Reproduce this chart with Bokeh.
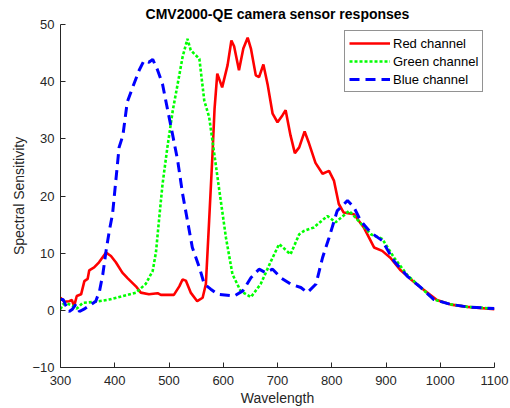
from bokeh.plotting import figure
from bokeh.models import Range1d, FixedTicker, Legend, LegendItem
from bokeh.embed import file_html
from bokeh.resources import INLINE

title_text = "CMV2000-QE camera sensor responses"
x_label = "Wavelength"
y_label = "Spectral Sensitivity"
x_ticks = [300, 400, 500, 600, 700, 800, 900, 1000, 1100]
y_ticks = [-10, 0, 10, 20, 30, 40, 50]
series_names = ["Red channel", "Green channel", "Blue channel"]

red_x = [300, 307, 316, 321, 325, 330, 338, 344, 350, 353, 362, 371, 384, 393, 402, 414, 424,
         439, 448, 463, 479, 485, 495, 509, 519, 525, 531, 540, 552, 562, 568, 574, 580, 584,
         589, 598, 608, 615, 620, 629, 637, 645, 651, 660, 666, 674, 682, 691, 700, 709, 715,
         724, 732, 740, 750, 757, 770, 783, 795, 804, 813, 822, 841, 859, 878, 893, 908, 927,
         945, 964, 994, 1020, 1050, 1100]
red_y = [2.2, 1.5, 1.6, 1.8, 0.7, 2.5, 2.8, 5.1, 5.5, 7.0, 7.5, 8.4, 10.1, 9.5, 8.4, 6.6, 5.6,
         4.2, 3.1, 2.8, 3.0, 2.7, 2.7, 2.7, 4.2, 5.4, 5.2, 3.1, 1.6, 2.2, 4.6, 15.7, 27.0, 35.3,
         41.4, 39.0, 42.9, 47.2, 46.2, 42.0, 45.8, 47.7, 45.8, 41.1, 40.8, 43.0, 39.4, 34.4, 32.9,
         34.1, 35.0, 30.6, 27.5, 28.5, 31.3, 29.5, 25.8, 23.9, 24.4, 22.7, 18.6, 17.1, 16.8, 14.5,
         11.0, 10.4, 9.2, 7.0, 5.5, 4.0, 1.8, 1.0, 0.6, 0.2]

green_x = [300, 304, 312, 322, 330, 341, 365, 390, 415, 439, 457, 470, 476, 482, 488, 497, 507,
           516, 525, 534, 540, 556, 565, 574, 583, 592, 605, 617, 632, 651, 669, 688, 703, 724,
           740, 749, 767, 792, 807, 832, 844, 872, 893, 915, 939, 964, 988, 1019, 1050, 1100]
green_y = [0.2, 1.0, 1.2, 0.8, 0.3, 1.3, 1.5, 1.9, 2.5, 3.1, 4.6, 6.9, 10.2, 16.2, 22.0, 28.5,
           35.0, 39.6, 44.3, 47.5, 45.5, 44.0, 36.7, 33.8, 27.7, 21.5, 12.7, 6.3, 3.4, 2.3, 4.6,
           8.6, 11.6, 9.8, 13.3, 13.9, 14.5, 16.5, 15.4, 17.4, 16.2, 13.3, 12.5, 9.2, 6.2, 4.0,
           1.9, 1.05, 0.6, 0.3]

blue_x = [300, 305, 310, 316, 322, 328, 335, 345, 353, 365, 372, 378, 384, 390, 396, 408, 415,
          423, 433, 445, 454, 463, 470, 479, 488, 494, 504, 516, 525, 534, 543, 556, 565, 577,
          590, 620, 636, 651, 666, 678, 691, 706, 724, 743, 755, 771, 783, 795, 810, 829, 841,
          853, 872, 893, 915, 939, 964, 988, 1019, 1050, 1100]
blue_y = [1.9, 1.9, 0.8, -0.2, 0.2, 1.0, -0.2, 0.3, 0.8, 1.6, 3.4, 6.3, 10.4, 13.9, 16.9, 28.5,
          30.6, 36.4, 39.0, 42.0, 43.7, 43.4, 43.9, 42.0, 39.6, 36.7, 32.0, 26.2, 20.4, 15.7,
          11.0, 7.5, 4.6, 3.7, 2.8, 2.5, 3.4, 5.7, 7.2, 6.6, 7.2, 5.7, 4.6, 4.0, 3.1, 4.6, 9.2,
          12.7, 17.4, 19.2, 18.0, 15.7, 13.6, 12.2, 8.6, 6.0, 4.0, 1.9, 1.05, 0.6, 0.3]

FONT = "Liberation Sans"
AX = "#262626"

p = figure(width=510, height=408, output_backend="svg", toolbar_location=None,
           x_range=Range1d(300, 1100), y_range=Range1d(-10, 50),
           min_border_left=60, min_border_right=16, min_border_top=24, min_border_bottom=41)
p.outline_line_color = None
p.xgrid.visible = False
p.ygrid.visible = False
p.background_fill_color = "white"
p.border_fill_color = "white"

p.title.text = title_text
p.title.align = "center"
p.title.text_font = FONT
p.title.text_font_size = "14px"
p.title.text_font_style = "bold"
p.title.text_color = "black"
p.title.standoff = 6
p.title.offset = 0

r_red = p.line(red_x, red_y, line_color="#FF0000", line_width=2.6)
r_green = p.line(green_x, green_y, line_color="#00FF00", line_width=2.6, line_dash="3 2")
r_blue = p.line(blue_x, blue_y, line_color="#0000FF", line_width=3, line_dash="10 6")

for ax, ticks in ((p.xaxis[0], x_ticks), (p.yaxis[0], y_ticks)):
    ax.ticker = FixedTicker(ticks=ticks)
    ax.major_tick_in = 5
    ax.major_tick_out = 0
    ax.minor_tick_in = 0
    ax.minor_tick_out = 0
    ax.axis_line_color = AX
    ax.major_tick_line_color = AX
    ax.major_label_text_color = AX
    ax.major_label_text_font = FONT
    ax.major_label_text_font_size = "13px"
    ax.axis_label_text_font = FONT
    ax.axis_label_text_font_size = "14px"
    ax.axis_label_text_font_style = "normal"
    ax.axis_label_text_color = AX

p.xaxis.axis_label = x_label
p.yaxis.axis_label = y_label
p.xaxis.major_label_standoff = 8
p.xaxis.axis_label_standoff = 2
p.yaxis.major_label_standoff = 6
p.yaxis.axis_label_standoff = 2

legend = Legend(items=[LegendItem(label=series_names[0], renderers=[r_red]),
                       LegendItem(label=series_names[1], renderers=[r_green]),
                       LegendItem(label=series_names[2], renderers=[r_blue])],
                location=(284, 275))
legend.glyph_width = 41
legend.glyph_height = 16
legend.label_height = 16
legend.label_standoff = 3
legend.spacing = 2
legend.padding = 4
legend.margin = 0
legend.label_text_font = FONT
legend.label_text_font_size = "13px"
legend.label_text_color = "black"
legend.border_line_color = AX
legend.border_line_width = 1
legend.background_fill_color = "white"
legend.background_fill_alpha = 1
p.add_layout(legend)

open("out.html", "w").write(file_html(p, INLINE))
